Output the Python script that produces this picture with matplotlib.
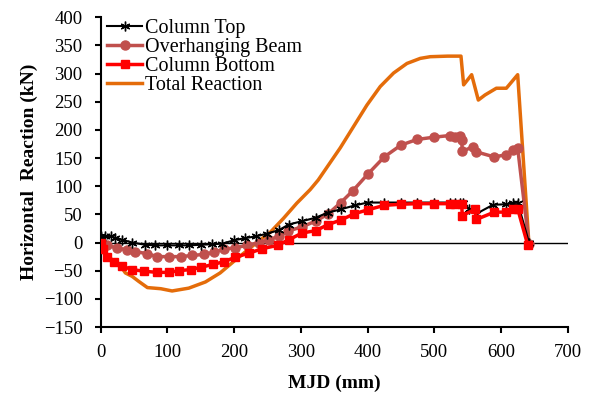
#!/usr/bin/env python3
"""Horizontal reaction components vs MJD."""

import matplotlib

matplotlib.use("Agg")
import matplotlib.pyplot as plt

plt.rcParams["font.family"] = ["Liberation Serif", "DejaVu Serif"]

# Column Top
top_x = [0, 7, 15, 22, 32, 47, 67, 82, 100, 117, 132, 150, 167, 182, 200, 217, 233, 250,
         267, 282, 302, 322, 340, 360, 381, 400, 425, 450, 474, 499, 523, 531, 538, 543,
         552, 563, 588, 608, 618, 625, 642]
top_y = [11, 11, 12, 8, 5, 0, -4, -5, -5, -5, -5, -4, -3, -2, 4, 8, 11, 16,
         22, 32, 38, 44, 53, 59, 66, 71, 71, 71, 71, 71, 71, 70, 70, 70,
         60, 51, 67, 68, 70, 71, 0]

# Overhanging Beam
beam_x = [0, 10, 25, 40, 52, 70, 85, 102, 120, 137, 155, 170, 185, 202, 220, 237, 252,
          267, 280, 302, 322, 340, 360, 378, 400, 425, 450, 474, 499, 523, 531, 538, 541,
          542, 558, 563, 590, 608, 618, 625, 642]
beam_y = [0, -5, -10, -13, -16, -20, -25, -25, -25, -23, -21, -17, -12, -9, -5, 0, 5,
          11, 20, 28, 38, 50, 71, 92, 121, 152, 173, 183, 187, 190, 188, 190, 182,
          162, 170, 161, 152, 156, 164, 168, -3]

# Column Bottom
bot_x = [0, 3, 10, 20, 32, 47, 65, 85, 102, 117, 135, 150, 168, 185, 202, 222, 242, 265,
         282, 302, 322, 341, 360, 380, 400, 425, 450, 474, 499, 523, 531, 541, 542, 561,
         563, 590, 608, 618, 625, 640]
bot_y = [0, -12, -25, -35, -42, -48, -51, -53, -53, -50, -48, -44, -39, -34, -26, -19, -11, -5,
         5, 17, 21, 32, 40, 51, 58, 66, 68, 69, 69, 69, 69, 68, 48, 59,
         41, 54, 54, 59, 60, -4]

# Total Reaction
total_x = [0, 4, 12, 20, 30, 37, 47, 57, 70, 90, 107, 132, 157, 179, 205, 234, 254, 274,
           294, 314, 326, 359, 379, 399, 419, 439, 459, 479, 494, 520, 540, 544, 556, 566,
           576, 593, 608, 625, 642]
total_y = [0, -18, -25, -34, -42, -54, -60, -69, -80, -82, -86, -81, -70, -54, -28, 0, 18, 43,
           70, 94, 111, 168, 206, 244, 277, 301, 318, 327, 330, 331, 331, 280, 298, 253,
           262, 274, 274, 298, -5]

fig = plt.figure(figsize=(5.91, 4.0), dpi=100)
ax = fig.add_axes([0.1704, 0.1825, 0.7902, 0.7743])

ax.axhline(0, color="black", linewidth=1.0, zorder=1)
ax.plot(top_x, top_y, color="black", linewidth=1.5, marker=(6, 2, 0), markersize=7,
        markeredgewidth=1.0, label="Column Top", zorder=4)
ax.plot(beam_x, beam_y, color="#C0504D", linewidth=2.5, marker="o", markersize=6.5,
        label="Overhanging Beam", zorder=3)
ax.plot(bot_x, bot_y, color="#FF0000", linewidth=2.5, marker="s", markersize=6,
        label="Column Bottom", zorder=5)
ax.plot(total_x, total_y, color="#E46C0A", linewidth=2.5, label="Total Reaction", zorder=2)

ax.set_xlim(0, 700)
ax.set_ylim(-150, 400)
ax.set_xticks(range(0, 701, 100))
ax.set_yticks(range(-150, 401, 50))
ax.spines["top"].set_visible(False)
ax.spines["right"].set_visible(False)
for s in ("left", "bottom"):
    ax.spines[s].set_linewidth(1.5)
ax.tick_params(direction="out", length=4, width=1.5, labelsize=13.5)
ax.tick_params(axis="y", pad=9)
ax.tick_params(axis="x", pad=8)

ax.set_xlabel("MJD (mm)", fontsize=14, fontweight="bold", labelpad=10)
ax.set_ylabel("Horizontal  Reaction (kN)", fontsize=14, fontweight="bold", labelpad=4)

ax.legend(loc="upper left", bbox_to_anchor=(-0.012, 1.035), frameon=False, fontsize=14.5,
          handlelength=1.75, handletextpad=0.15, labelspacing=0.0, borderaxespad=0.2)

fig.savefig("out.png", dpi=100)
